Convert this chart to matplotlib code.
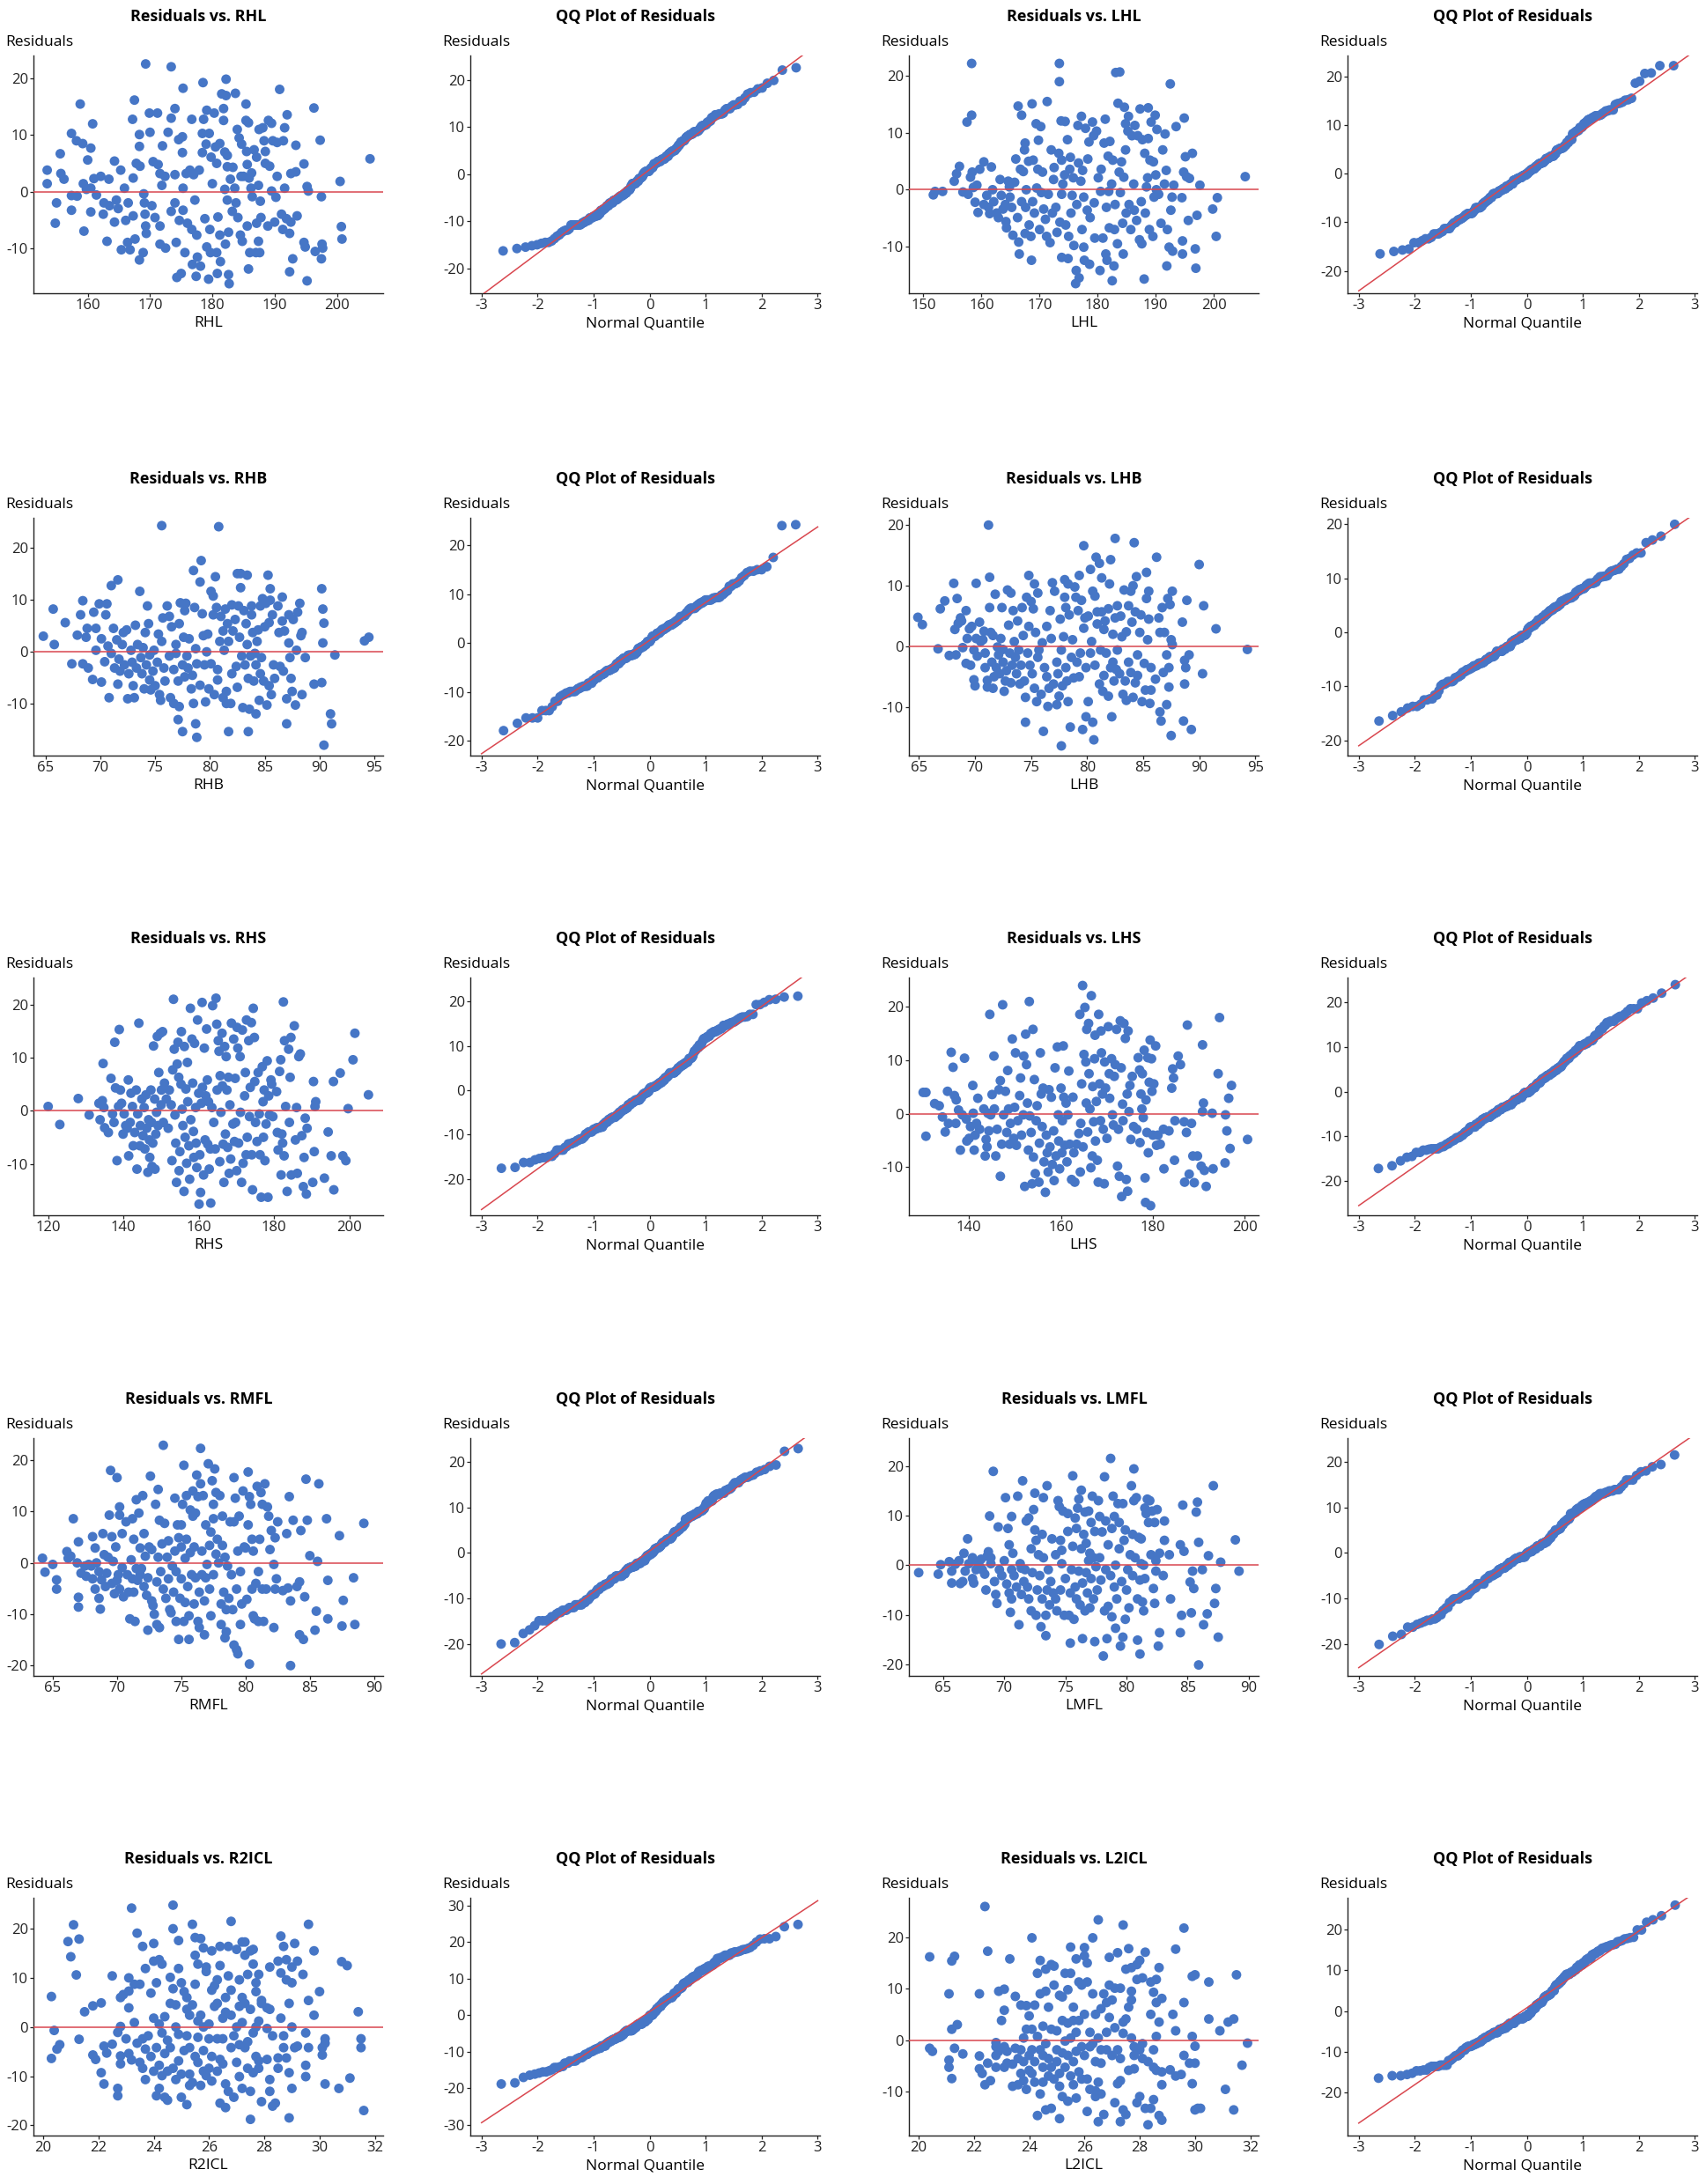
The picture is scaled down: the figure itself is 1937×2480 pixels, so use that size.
import numpy as np
import matplotlib
matplotlib.use("Agg")
import matplotlib.pyplot as plt
from statistics import NormalDist

plt.rcParams['font.family'] = ['Open Sans', 'DejaVu Sans']
plt.rcParams['axes.unicode_minus'] = False

# (predictor value, residual)
rhl = [(153.5,3.8),(153.5,1.4),(155,-2),(154.8,-5.6),(155.6,6.7),(155.7,3.2),(156.2,2.2),(157.4,10.3),(157.4,-0.7),(157.4,-3.3),(158.2,9),(158.8,15.5),(159.2,8.5),(158.3,-0.8),(159.3,1.4),(159.4,-7),(160,5.6),(160.5,7.7),(160.8,12),(159.8,0.4),(160.5,0.6),(161,2.3),(161.4,-0.6),(160.5,-3.6),(162.1,2.7),(162.6,-2),(162.5,-4),(163.1,-8.8),(163.4,2.2),(163.5,-2.5),(164.3,5.4),(164.3,-5.4),(164.6,-1.5),(164.9,-3),(165.3,3.8),(165.4,-10.3),(165.9,0.6),(166.1,-5.1),(166.4,-9),(166.8,-10.3),(166.5,-2),(167.2,12.8),(167.5,16.2),(167.3,2.4),(167.3,-4.3),(167.6,-8.4),(167.8,5),(168.3,10.1),(168.3,8),(168.4,4.5),(168.3,-12.1),(168.9,-10.8),(169.3,22.6),(169,-0.4),(169.1,-2),(169.2,-4),(169.3,-6.1),(169.4,-7.4),(169.9,13.9),(170,10.5),(170.3,-2.5),(170.5,5.3),(170.8,-4.6),(171.2,13.9),(171.3,4.8),(171.6,3.2),(171.6,-6.1),(171.6,-9.3),(171.9,1.1),(172,8.1),(172.4,2.7),(172.5,-10),(172.9,10.5),(173.4,22.1),(173.4,13),(173.4,-3.5),(174,14.7),(174,3),(174,-2),(174.2,-9),(174.3,-15.2),(174.6,9.2),(174.7,-5.1),(175,-14.5),(175.3,18.3),(175.2,9.7),(175.2,6.9),(175.3,0.6),(175.3,-3.3),(175.6,-10.8),(175.8,3.2),(176,-5.6),(176.4,3.8),(176.7,12.8),(176.7,-6.7),(176.8,-12.9),(177,3),(177.2,-1.5),(177.4,-15),(177.5,-7.7),(177.6,-11.6),(177.9,3.8),(178.1,-13.2),(178.4,10.3),(178.5,19.3),(178.4,6.9),(178.6,12.8),(178.8,-4.8),(179,8.4),(179.1,14.4),(179.1,-9.8),(179.4,-15.5),(179.5,10.3),(179.6,-6.7),(179.7,-10.8),(179.8,6.1),(180,1.4),(180.3,13.9),(180.5,7.9),(180.7,5),(180.7,-10.8),(180.8,-14.5),(180.9,-4.5),(181.2,8.5),(181.2,-7.7),(181.3,-12.4),(181.5,17.3),(181.8,14.7),(181.8,12.6),(182,7),(182,0.4),(182.1,-9.3),(182.2,19.9),(182.2,17),(182.4,6.4),(182.4,4.4),(182.4,-1.5),(182.6,-7.2),(182.6,-14.7),(182.7,-16.3),(182.9,2.2),(183.2,-3.5),(183.3,4.3),(183.6,0.6),(183.7,17.4),(183.8,-2),(184,11),(184.1,-4.6),(184.3,9.5),(184.5,-7.7),(184.6,2.7),(184.7,8.4),(184.8,-8.8),(185,2.7),(185.4,15.5),(185.4,12.6),(185.5,7.1),(185.6,4.8),(185.6,-6.1),(185.8,-13.7),(185.8,12.2),(185.9,2.4),(186,-10.8),(186.2,0.6),(186.3,3.3),(186.4,-0.9),(186.7,7.4),(187,-10.8),(187.1,6.1),(187.1,-5.6),(187.4,1.1),(187.4,-8.8),(187.5,11),(187.6,-10.8),(187.7,-1.7),(187.8,-4.6),(188.1,11.3),(188.3,9),(188.5,7.1),(188.5,5),(188.9,-6.1),(189,12.6),(189.2,4.5),(189.5,12.1),(189.5,0.1),(189.7,9),(190,-5.4),(190.4,2.7),(190.4,8.7),(190.2,-1),(190.8,18.1),(191.1,-4),(191.3,-6.7),(191.4,9),(191.6,11.3),(191.6,0.6),(191.9,-4.8),(192,13.6),(192.4,-7.4),(192.4,-14.2),(192.6,3.2),(192.9,-11.9),(192.6,-5.4),(193.4,3.5),(193.4,8.2),(193.6,-4.3),(194.7,4.9),(194.7,-9),(194.9,-9.8),(195.2,-15.8),(195.2,0.9),(195.4,0.1),(196.3,14.8),(196.5,-10.6),(197.3,9.1),(197.5,-0.9),(197.5,-11.9),(197.6,-9.3),(197.7,-10),(200.5,1.8),(200.7,-6.2),(200.8,-8.4),(205.3,5.8)]

lhl = [(151.7,-0.9),(152,-0.3),(153.3,-0.3),(155.3,1.5),(155.7,2.8),(156.2,4.1),(156.8,-0.4),(157.5,11.9),(157.7,-0.8),(158.1,2.2),(158.3,22.2),(158.3,13.1),(158.4,3.1),(158.6,0.4),(158.9,-2.2),(159.2,0.8),(159.4,-4),(159.7,3.6),(160.4,4.9),(160.4,-2.6),(160.9,-1),(161.2,-3.1),(161.4,-4.2),(161.7,4),(161.9,0),(162.1,-2.1),(162.6,-4.1),(162.9,-4.9),(163.2,1.8),(163.4,-1),(163.7,-3.4),(164.1,-2.6),(164.2,-5.6),(164.3,-6.7),(164.6,1.5),(164.8,0.5),(164.9,-1.3),(165.2,-3.1),(165.4,-8),(165.7,1.3),(165.9,5.4),(166.2,-4.9),(166.3,14.7),(166.4,-9.2),(166.5,-11.3),(166.7,3.6),(166.9,13.1),(166.9,-2.1),(167.2,3.2),(167.4,7),(167.5,8.2),(167.5,-7.7),(167.6,-3.1),(167.7,0),(168.1,5),(168.2,-6.2),(168.5,-8.2),(168.6,-12.4),(168.7,15.1),(168.8,-2.1),(168.9,5.2),(169.1,-4.1),(169.4,11.6),(169.5,0.3),(169.7,3.6),(169.8,8.7),(170,-7),(170.2,11.1),(170.3,-0.5),(170.5,3.1),(170.7,-3.4),(171,-5.2),(171.2,-8.2),(171.3,15.5),(171.5,-0.8),(171.8,-9.3),(172,7),(172.2,-4.1),(172.4,1.8),(172.5,3.9),(172.8,-3.1),(173,-7.5),(173.3,6.4),(173.4,22.2),(173.4,19),(173.5,-5.7),(173.7,12.1),(173.8,5.2),(173.8,-0.8),(173.8,-11.9),(174,1),(174.3,2.6),(174.4,12),(174.5,-6.2),(174.8,8.8),(174.9,-12.1),(175,-8.2),(175.2,3.6),(175.3,5.7),(175.4,-4.1),(175.6,-1),(175.8,2.1),(175.9,-9.8),(176.2,-16.5),(176.3,-14.2),(176.4,-2.6),(176.6,11.3),(176.7,4.7),(176.8,-15.5),(177.1,1.5),(177.2,12.9),(177.3,-7),(177.4,3.4),(177.6,-1.3),(177.6,-10.1),(177.7,-12.4),(177.9,10.8),(178.2,-3.6),(178.3,5.4),(178.5,8.4),(178.6,-13.1),(178.7,-4.9),(179.1,11.9),(179.3,9.5),(179.4,-2.3),(179.5,-8.5),(179.8,10.3),(180.1,2.1),(180.4,-14.2),(180.5,-0.3),(180.6,3.6),(180.9,-8.5),(181.1,8.2),(181.3,12.4),(181.4,-11.3),(181.5,-3.1),(181.6,-12.4),(181.8,5.9),(181.9,-0.3),(182,-6.7),(182.1,8.5),(182.4,1),(182.5,-16),(182.6,5.2),(182.8,-13.4),(182.9,-7),(183,-2.6),(183.1,20.6),(183.4,-9.5),(183.5,15.2),(183.7,3.1),(183.8,20.7),(183.9,-0.5),(184.1,4.9),(184.3,-5.9),(184.4,-11.3),(184.5,2.2),(184.6,14.5),(184.8,11.6),(184.8,7),(184.9,-4.1),(185.2,10.3),(185.3,12.9),(185.4,-2.6),(185.7,-7),(185.9,9.5),(186.2,1),(186.3,-3.6),(186.4,11.3),(186.7,-5.4),(186.9,9.5),(187.2,-8.8),(187.3,14.2),(187.5,-2.1),(187.6,-9.5),(187.7,8.8),(188,-15.7),(188.1,6.4),(188.2,-4.1),(188.4,0.5),(188.6,2.1),(188.7,14.4),(188.7,9),(188.9,-7),(189,5.2),(189.2,11.9),(189.5,-8.2),(189.6,4.9),(189.7,-1.3),(189.9,13.1),(190,2.6),(190.1,0),(190.2,10.6),(190.5,-0.8),(190.9,-5.9),(191.2,7),(191.5,1),(191.6,9.8),(191.8,3.4),(191.9,-13.4),(192,-7),(192.3,-10.1),(192.5,18.6),(192.6,-3.6),(192.8,-1.3),(192.9,-10.8),(193.1,0.8),(193.5,11.1),(194.5,-1.4),(194.6,-9),(194.6,-11.3),(194.8,3.1),(194.9,12.6),(195.1,5.8),(195.3,2.3),(195.6,-5.4),(195.8,2),(196.3,6.4),(196.8,-10.4),(196.9,-13.8),(197.1,-4.5),(197.6,0.8),(199.8,-3.4),(200.4,-8.2),(200.6,-1.4),(205.4,2.3)]

rhb = [(64.8,3),(65.7,8.2),(65.8,1.4),(66.8,5.6),(67.4,-2.3),(67.9,3.2),(68.2,7.1),(68.4,9.8),(68.4,-2.3),(68.7,2.8),(68.8,4.5),(68.9,-3.1),(69.3,-5.3),(69.4,7.6),(69.6,4.5),(69.6,0.3),(69.9,9.2),(70.1,2.5),(70.1,-5.8),(70.4,-1.9),(70.5,7.1),(70.6,9.2),(70.7,1.1),(70.8,-8.8),(71,12.7),(71,-0.3),(71.2,4.5),(71.3,-3.1),(71.5,2.3),(71.6,13.8),(71.6,-6.2),(71.7,-1.4),(71.8,-3.7),(72,1.4),(72.1,3.7),(72.2,-2.5),(72.4,4.2),(72.5,-9),(72.6,-4.2),(72.8,0.3),(72.9,-2),(73,-6.5),(73.1,-8.8),(73.2,5.1),(73.3,-3.1),(73.4,1.4),(73.6,11.6),(73.7,-1.1),(73.8,-4.2),(73.9,0.8),(74,-7.1),(74.1,3.7),(74.2,-2.5),(74.3,8.8),(74.4,5.4),(74.5,-0.6),(74.5,-5.4),(74.6,-7.3),(74.8,-3.7),(74.9,0.3),(75,-6.5),(75.2,-2),(75.3,3.4),(75.4,-8.2),(75.5,-9.3),(75.6,24.2),(75.6,2),(75.7,6.5),(75.8,-3.1),(75.9,-5.6),(76.1,8.8),(76.3,6.8),(76.3,-0.8),(76.4,-8.8),(76.5,4.8),(76.7,-3.4),(76.7,-9.9),(76.9,1.4),(76.9,-0.3),(77.1,-5.6),(77.1,-13),(77.2,5.4),(77.2,-10.5),(77.3,9.4),(77.5,-15.3),(77.5,-2.5),(77.6,2.8),(77.7,7.9),(77.7,-4.8),(77.8,9.3),(77.9,-0.8),(78,-3.1),(78.1,2.5),(78.3,-7.1),(78.4,-4.5),(78.5,15.6),(78.5,-9.9),(78.6,8.5),(78.7,0.6),(78.7,-13.8),(78.8,-16.4),(78.8,-2.3),(79.1,13.4),(79.1,-6.4),(79.2,17.5),(79.3,7.3),(79.4,3.1),(79.5,-2.5),(79.6,-9.6),(79.7,0),(79.8,3.4),(79.9,-7.1),(80.1,11.6),(80.1,-2.3),(80.3,7.1),(80.3,10.7),(80.4,-8.2),(80.5,14.4),(80.6,8.5),(80.7,-5.4),(80.7,-3.4),(80.8,24),(80.9,2),(81,6.8),(81.2,4),(81.2,-8.8),(81.3,0.3),(81.4,8.2),(81.5,-7.6),(81.5,-9.9),(81.6,5.4),(81.7,2),(81.7,-15.3),(81.9,-9.9),(82,9),(82,-4.2),(82.1,4),(82.3,6.2),(82.4,-2.8),(82.5,-6.8),(82.5,15),(82.6,8.8),(82.7,2.8),(82.8,12.3),(82.8,15),(82.9,-0.8),(83,-10.7),(83.1,7.9),(83.2,-2.5),(83.3,5.4),(83.4,14.7),(83.4,1.4),(83.5,-5.1),(83.5,-15.3),(83.6,-11),(83.7,-0.8),(83.8,7.1),(83.8,8.8),(83.9,3.7),(84,-5.6),(84.1,-0.3),(84.2,-11.9),(84.2,-2.5),(84.3,2),(84.4,4.2),(84.5,-9.3),(84.6,-4.2),(84.6,8.8),(84.7,-1.1),(84.8,10.2),(84.9,-5.6),(85,4.8),(85.1,9.3),(85.2,-10.2),(85.3,14.7),(85.4,-6.5),(85.4,5.6),(85.5,9.9),(85.5,12.1),(85.6,-8.2),(85.7,7.1),(85.8,-2.5),(85.9,-5.1),(86.2,8.8),(86.3,3.7),(86.4,-2.8),(86.6,10.5),(86.6,5.9),(86.7,-3.7),(86.8,4),(87,-9),(87,-13.8),(87.2,7.1),(87.2,1.7),(87.3,-1.1),(87.4,-5.1),(87.5,-7.6),(87.6,6.2),(87.8,-10.2),(87.9,0.3),(88,7.6),(88.2,9.3),(88.3,3.1),(88.4,3.7),(88.4,-8.2),(88.7,-1.1),(89.5,-6.2),(90.2,12.1),(90.2,-5.9),(90.3,8.2),(90.3,1.7),(90.4,-17.9),(90.4,5.5),(91,-11.9),(91.1,-13.8),(91.4,-0.6),(94.1,2.1),(94.5,2.8)]

lhb = [(64.9,4.8),(65.3,3.6),(66.7,-0.4),(66.9,6.2),(67.3,7.5),(67.7,-1.5),(68.1,10.4),(68.2,2.8),(68.3,-1.4),(68.4,7.9),(68.5,3.8),(68.7,4.7),(68.8,4.2),(68.9,-0.2),(69.2,-2.8),(69.2,5.9),(69.3,1.3),(69.5,2.9),(69.6,-3.1),(69.7,3.3),(69.9,-5.5),(69.9,-0.6),(70,-6.5),(70.1,1.3),(70.1,10.4),(70.2,-1.6),(70.4,4),(70.5,0.8),(70.7,1.1),(70.8,2.5),(70.9,-1.1),(70.9,-3.5),(71.1,-6.7),(71.1,-5.6),(71.2,20),(71.3,6.4),(71.3,11.4),(71.4,2.3),(71.5,-2.6),(71.6,-6.9),(71.6,1.8),(71.7,-5),(71.8,8.6),(71.9,-3.5),(72,-0.1),(72.1,-1.4),(72.2,-4.5),(72.3,1.3),(72.4,6.4),(72.5,-2.6),(72.5,-0.5),(72.6,-7.4),(72.7,-5.7),(72.8,-4),(72.9,9.3),(73,3.5),(73.1,-1.1),(73.2,8.8),(73.2,-6),(73.3,-3.1),(73.4,5.9),(73.5,0.8),(73.6,-1.8),(73.7,-4.5),(73.8,4.2),(73.9,-0.6),(74,-6.2),(74.1,-3.1),(74.2,6.4),(74.3,1.8),(74.4,-5.7),(74.5,-8.4),(74.5,-12.5),(74.6,8.1),(74.7,-1.1),(74.8,11.7),(74.8,3.3),(74.9,-3.1),(75,7.4),(75.1,-4.5),(75.2,6.2),(75.3,10.3),(75.3,-6.9),(75.4,2.3),(75.5,-9.1),(75.6,8.8),(75.6,-1.8),(75.7,-0.6),(75.9,-7.9),(76,0.6),(76.1,-14),(76.2,-3.5),(76.4,3.3),(76.4,-5),(76.5,-9.9),(76.6,-6.9),(76.7,5.9),(76.8,1.3),(76.9,10.5),(77,-6.2),(77.1,9.1),(77.3,-9.6),(77.3,-2.6),(77.4,-4.5),(77.5,-8.2),(77.6,4.5),(77.7,-16.4),(77.7,-0.6),(77.8,-6.5),(77.9,1.6),(78,8.1),(78,11),(78.1,-3.5),(78.1,6.4),(78.2,-5.7),(78.3,-9.1),(78.3,10.3),(78.4,5.2),(78.5,-13.3),(78.6,-1.8),(78.7,1.1),(78.8,-5.2),(78.9,9.8),(79,8.1),(79.1,-2.6),(79.2,5.9),(79.3,-5),(79.3,11.7),(79.4,-1.1),(79.5,7.6),(79.6,-13.7),(79.7,3),(79.7,16.6),(79.8,4.7),(79.9,-11.6),(79.9,-3.5),(80.1,5),(80.1,-9.1),(80.3,-1.1),(80.3,12.7),(80.4,0.8),(80.5,9.1),(80.5,-12.5),(80.6,-15.4),(80.7,8.3),(80.7,-3.1),(80.8,14.7),(80.9,5.7),(80.9,3.7),(81.1,13.7),(81.1,-6.2),(81.2,-0.6),(81.3,5.7),(81.3,11.3),(81.4,-7.4),(81.5,2.8),(81.5,-4.8),(81.6,4.2),(81.7,-1.1),(81.9,6.2),(81.9,-8.2),(82,10.3),(82.1,-3.5),(82.1,14.3),(82.2,-11.6),(82.3,-2.6),(82.3,2),(82.4,-5.7),(82.5,4.7),(82.5,17.8),(82.6,-3.8),(82.7,6.7),(82.7,-0.6),(82.9,-4.5),(83,5),(83.1,1.6),(83.2,-7.9),(83.3,9.3),(83.4,-5.7),(83.5,-8.9),(83.5,2.4),(83.7,6.7),(83.7,-2.6),(83.9,9.1),(83.9,-4.3),(84,4),(84.1,10),(84.1,-8.4),(84.2,17.1),(84.3,-6),(84.3,5.7),(84.4,11.5),(84.5,-1.4),(84.5,-4.8),(84.7,2.3),(84.8,5.2),(84.9,-9.1),(85.1,-2.8),(85.2,-7.2),(85.3,7.9),(85.3,12.2),(85.4,1.1),(85.5,4.5),(85.5,9.1),(85.6,-9.4),(85.7,-3.5),(85.7,-7.2),(86.1,-5.4),(86.2,14.7),(86.4,4.7),(86.5,-10.8),(86.5,2.3),(86.6,-12.3),(86.7,6.4),(86.8,-4.3),(86.9,2.3),(87.1,-1.4),(87.1,-9.6),(87.2,7.9),(87.3,-6.7),(87.3,-3.5),(87.4,6.9),(87.5,1.1),(87.5,-14.7),(87.6,9.1),(87.6,0.3),(88.5,4),(88.6,-12.3),(88.7,-2.3),(88.7,-6.2),(88.8,-3.5),(88.9,7.6),(89.1,-1.4),(89.3,-13.7),(90,13.5),(90.3,-4.5),(90.4,6.7),(91.5,2.9),(94.3,-0.5)]

rhs = [(120,0.8),(123.1,-2.6),(128,2.3),(130.9,-0.8),(133.5,1.4),(133.8,-1.7),(134.4,1.9),(134.6,8.9),(134.8,0.6),(135,-3.2),(136,-4.1),(136.7,6.1),(137.1,-0.6),(137.5,-2.2),(137.7,12.9),(137.9,4.3),(138.3,-9.4),(138.7,0.8),(138.9,15.3),(139.2,3.9),(139.5,1.4),(139.9,-4.4),(140.2,-0.6),(140.6,-2.8),(141,-3.3),(141.3,5.8),(141.4,-8.5),(141.8,-2.2),(142,3.3),(142.4,0.8),(142.6,-6.6),(143,-4.1),(143.4,3.9),(143.6,-11),(143.8,-0.6),(144.1,16.5),(144.4,-6.6),(144.5,-2.8),(144.9,2.2),(145.2,-4.7),(145.5,0.6),(145.7,-7.2),(146,3),(146.2,-3.3),(146.5,-11.6),(146.7,-1.7),(146.9,-5.5),(147,-8.8),(147.3,3.9),(147.5,-2.2),(147.6,-10.5),(147.8,-6.1),(148,12.2),(148.3,2.2),(148.4,-11),(148.6,-4.4),(148.8,-0.3),(149,14),(149.2,-2.8),(149.4,7.2),(149.8,14.6),(150,1.1),(150.1,3.9),(150.4,14.9),(150.6,-2.2),(150.9,5.2),(151.4,2.2),(151.9,-3.3),(152.2,3.9),(152.7,1.1),(152.9,-9.4),(153.1,7.7),(153.3,21),(153.5,11.6),(153.7,-0.8),(153.9,-6.1),(154.1,-13.5),(154.3,8.8),(154.5,12.9),(154.7,6.3),(154.8,-11.3),(155,-7.7),(155.3,5),(155.4,14.9),(155.6,0.3),(155.8,-2.8),(156.1,-15.2),(156.2,12.1),(156.4,-5),(156.6,4.1),(156.8,-9.9),(157,9.1),(157.1,1.7),(157.4,-6.6),(157.6,-12.9),(157.8,19.3),(157.9,-1.7),(158.2,13.5),(158.4,5.2),(158.6,-3.9),(158.7,-8.8),(158.9,12.7),(159.2,0.6),(159.3,-6.1),(159.5,-10.7),(159.7,17.1),(160,3.3),(160.1,-17.6),(160.3,-8.3),(160.5,-15.4),(160.7,1.4),(160.9,20.4),(161,4.4),(161.3,-12.1),(161.5,11.8),(161.7,-5.5),(161.9,2.8),(162.1,15.4),(162.3,5.8),(162.4,-6.3),(162.6,1.7),(162.8,-11),(163.1,-7.2),(163.2,-17.4),(163.5,0.6),(163.7,19.8),(164,-2.2),(164.4,-7.2),(164.6,21.2),(164.8,16.3),(164.9,3.9),(165.2,13.2),(165.4,11.2),(165.6,-9.6),(165.7,6.6),(165.9,-0.3),(166.2,14.6),(166.3,4.7),(166.5,-6.3),(166.7,-13.5),(166.9,12.1),(167.1,-4.4),(167.3,10.2),(167.5,3.9),(167.7,-6.9),(167.9,6.3),(168.1,-11.8),(168.3,1.1),(168.5,-9.1),(168.7,16.5),(169.1,-2.5),(169.3,13.5),(169.5,-5.8),(169.7,6.1),(169.8,-2.2),(170.1,-11.3),(170.2,15.7),(170.4,11.8),(170.6,-6.1),(171,10.2),(171.1,-0.3),(171.4,-13.5),(171.6,15.2),(171.8,-9.9),(172.2,2.8),(172.4,7.2),(172.6,-8.3),(172.7,17.1),(172.9,-5),(173.3,13.2),(173.5,-1.1),(173.7,4.4),(174,16.6),(174.1,-8.3),(174.3,-14.9),(174.5,19.3),(174.8,13.8),(174.9,5.5),(175.1,-2.2),(175.5,-5.8),(175.8,7.2),(176.1,-0.6),(176.3,-8.3),(176.6,-16.3),(176.9,8.3),(177.1,1.7),(177.2,-5),(177.4,3.9),(177.6,-9.4),(177.9,-2.5),(178.2,9.4),(178.4,-16.3),(178.6,2.8),(178.8,-0.8),(179.2,5.8),(179.4,5),(179.7,-1.1),(180.7,3.6),(180.9,-4.1),(181.1,-7.4),(181.5,7.4),(181.8,9.6),(181.9,-12.1),(182.1,-4.4),(182.3,-6.1),(182.5,20.5),(182.7,-8.5),(182.8,13.2),(183.1,0.8),(183.5,-15.2),(183.9,11.6),(184.1,-2.2),(184.3,6.3),(184.5,13.8),(184.6,-12.1),(185.4,16),(185.7,-5.5),(186,0.6),(186.2,-11.8),(186.6,10.2),(187,10.7),(187.4,-4.7),(187.8,-14.3),(188,-8.8),(188.3,-1.4),(188.6,-15.7),(188.8,-3.3),(190.3,-13.5),(190.5,5.5),(190.7,-7.7),(190.9,0.8),(191.1,1.7),(193.4,-12.7),(194.4,-4),(195.2,-8.5),(195.9,-14.9),(195.8,5.5),(197.6,7.1),(198.3,-8.5),(199.1,-9.4),(199.7,0.4),(201,9.6),(201.5,14.6),(205.1,3)]

lhs = [(130,4),(130.6,4),(130.6,-4.2),(132.5,1.9),(133.5,1.5),(134.2,-0.6),(134.8,-3.4),(135.3,4.2),(135.5,-1.8),(136.1,11.5),(136.5,8.7),(136.8,3.4),(137.1,-1.8),(137.2,2.6),(137.7,0.7),(138.1,-6.8),(138.5,-0.2),(139,10.4),(139.4,-1),(139.5,-5.1),(140,-4.6),(140.3,-2.4),(140.8,5.3),(140.9,0.1),(141.1,-6.8),(141.3,-4),(141.6,-1.8),(141.9,2.9),(142.3,-2.9),(143.2,0.9),(143.5,-7.9),(143.7,-4.8),(143.9,-6.2),(144.1,0.1),(144.3,-3.2),(144.5,18.6),(144.7,-0.2),(145,3.6),(145.4,10.8),(145.5,0.9),(145.8,-7.9),(146.1,-2.9),(146.5,4.5),(146.8,6.2),(146.8,-11.7),(147.1,-5.7),(147.3,20.4),(147.5,-0.2),(147.9,4.2),(148.2,-3.5),(148.4,8.1),(148.6,0.9),(148.8,-5.7),(149,-1.8),(149.4,14),(149.7,-4.6),(149.9,1.2),(150.1,11.4),(150.3,-5.9),(150.6,-1.3),(151,3.4),(151.2,6.7),(151.4,-4),(151.8,-0.2),(151.9,10.8),(152.1,-13.6),(152.3,14.9),(152.5,9.2),(152.7,2),(152.9,-6.8),(153.1,21),(153.2,-0.4),(153.5,-3.5),(153.7,-13.1),(153.9,15.8),(154,-8.1),(154.2,6.4),(154.4,-11.2),(154.6,-1.3),(154.8,1.5),(155.2,-12.8),(155.3,-5.5),(155.5,11.4),(155.7,3.7),(155.9,-2.4),(156.1,4.8),(156.3,-9),(156.6,-14.7),(156.8,-4),(157,-7.3),(157.2,-10.9),(157.4,4.5),(157.6,-6.2),(157.9,3.1),(158.1,-9.5),(158.4,-3.2),(158.5,-12.5),(158.7,8.6),(158.9,-7.9),(159.2,12.5),(159.4,-0.2),(159.5,-5.1),(159.7,-10.3),(160,4.8),(160.2,-7.3),(160.3,-1.3),(160.5,12.7),(160.6,3.1),(160.8,-5.9),(161.1,2),(161.3,-9),(161.5,-0.2),(161.7,8),(161.9,-5.7),(162.3,-12.3),(162.6,3.1),(162.8,-7.3),(163,-12.8),(163.4,-5.7),(163.9,-3.7),(164.1,18.6),(164.2,-10.9),(164.3,-1.8),(164.5,5.6),(164.7,24),(164.8,-6.2),(165,11.1),(165.2,19.9),(165.4,9.7),(165.5,2),(165.6,15.8),(165.8,-3.4),(166,16.9),(166.1,7.5),(166.3,0.9),(166.5,-10.1),(166.6,22.1),(166.8,-7.9),(166.9,5.1),(167.1,-1.5),(167.3,10.3),(167.4,14.7),(167.5,-5.1),(167.7,2.3),(167.9,-8.7),(168.1,-12.8),(168.2,18.6),(168.4,5.6),(168.6,-1.3),(168.7,15.5),(168.8,11.4),(169,3.7),(169.2,-2.9),(169.4,-13.1),(169.5,9.7),(169.7,4.8),(170,-4.6),(170.3,16.3),(170.5,7.5),(170.6,2.9),(171,10.3),(171.2,-0.2),(171.4,-2.1),(171.6,7),(171.8,9.2),(172.1,15.8),(172.3,-9.8),(172.5,-2.9),(172.7,-11.7),(172.9,17.4),(173.1,8.6),(173.2,-15.5),(173.4,1.8),(173.5,-1.3),(173.7,16.9),(174,14.1),(174.2,-12.3),(174.4,3.7),(174.5,-14.5),(174.6,15.5),(174.8,0.4),(175,5.3),(175.2,-4.8),(175.5,7),(175.8,-2.4),(176.5,-2.9),(176.8,10.5),(177.1,8.2),(177.2,-5.4),(177.4,3.7),(177.6,0.9),(177.7,7.5),(177.9,-0.7),(178.1,11.9),(178.3,-12),(178.4,-16.6),(178.5,2.6),(178.7,-3.5),(178.9,10.5),(179,-7.3),(179.2,5.9),(179.4,13.8),(179.5,-17.2),(179.7,10.3),(179.8,4.2),(180,-4),(180.2,5.6),(180.6,12.7),(180.8,-5.9),(181.1,-4),(181.6,-5.7),(182.3,-2.9),(182.4,-10.3),(183.5,-3.2),(184.1,4.8),(184.3,8.4),(184.5,6.7),(184.7,-8.7),(184.8,-1.3),(185.5,10.8),(186,9.2),(186.8,-1.5),(186.9,-12.8),(187.3,-3.5),(187.5,16.6),(187.9,-11.3),(188.4,-1.8),(188.7,-7.9),(189,-12.9),(189.7,-7.9),(190.5,-9.8),(190.8,12.9),(190.8,0.4),(191,2),(191.2,-10.6),(191.6,-13.6),(192.9,0.1),(193.1,-10.3),(194.2,7.5),(194.5,18),(195.7,-9.2),(195.8,-0.2),(196.1,-3.2),(196.5,2.9),(196.8,-6.5),(197.1,5.3),(200.6,-4.8)]

rmfl = [(64.2,0.9),(64.4,-1.8),(65,-0.3),(65.3,-3.3),(65.3,-5.1),(66.1,2.2),(66.2,0.9),(66.4,1.3),(66.6,8.6),(66.9,0),(67,4.1),(67,-6.7),(67,-8.6),(67.2,-2),(67.5,-0.6),(67.6,-2.6),(67.8,-0.3),(68,-0.6),(68.1,5.1),(68.1,-3.1),(68.3,2.9),(68.3,-5.1),(68.4,0),(68.6,-6.9),(68.6,-1.7),(68.7,-9),(68.8,-3.3),(68.9,5.7),(69,1.6),(69.1,-4.6),(69.2,-2),(69.3,1.1),(69.4,9.3),(69.5,18),(69.6,5.1),(69.6,-4),(69.7,0.3),(69.8,-6),(69.9,3.1),(70,-3.4),(70,16.6),(70.1,-2.3),(70.2,9.3),(70.2,10.9),(70.2,-5.1),(70.4,5.7),(70.4,-0.9),(70.5,-6.6),(70.7,8),(70.8,-2.3),(70.9,-5.7),(71,-10.9),(71.1,0.6),(71.2,-3.1),(71.2,8.6),(71.3,4.6),(71.3,-5.7),(71.4,-11.4),(71.5,-1.1),(71.5,12.3),(71.6,-3.4),(71.7,9.7),(71.8,2.9),(71.8,-2.3),(71.9,-1.1),(72,13.1),(72.1,-4.6),(72.1,5.7),(72.2,1.3),(72.3,-6.3),(72.4,-13.1),(72.4,-2.9),(72.5,3.1),(72.6,16.9),(72.7,2.6),(72.7,-7.4),(72.8,-8.3),(72.9,-10),(73,11.4),(73.1,-3.7),(73.1,-12),(73.2,1.1),(73.2,14.3),(73.3,-12.6),(73.3,8.3),(73.4,-1.7),(73.5,3.7),(73.6,22.9),(73.6,-5.1),(73.7,7.7),(73.8,-6.9),(73.9,1.1),(74,4.3),(74,-3.1),(74.1,-9.1),(74.2,-9.7),(74.3,-0.6),(74.4,-5.7),(74.5,12.6),(74.5,2.3),(74.6,-11.4),(74.6,-1.7),(74.7,7.4),(74.8,-14.9),(74.8,4.9),(74.9,-6.9),(75,7.4),(75,-3.1),(75,3.1),(75.1,11.4),(75.2,19),(75.2,-11.4),(75.3,-7.7),(75.3,0.9),(75.4,13.1),(75.4,4.6),(75.5,-4.6),(75.6,-14.9),(75.6,-10.3),(75.7,10.3),(75.7,2),(75.8,-2.3),(75.9,9.1),(75.9,14),(76,-8),(76,3.1),(76.1,9.7),(76.1,-2.9),(76.2,17.1),(76.3,-11.4),(76.3,12.9),(76.4,-5.7),(76.4,-12.6),(76.5,22.3),(76.5,15.4),(76.6,2.3),(76.6,-2.3),(76.7,13.1),(76.8,-14),(76.8,-7.4),(76.9,-2.9),(76.9,7.4),(77,-0.3),(77.1,19.3),(77.2,-5.1),(77.2,3.4),(77.3,-10.3),(77.3,6),(77.4,16),(77.5,8.6),(77.5,-2.3),(77.5,11.4),(77.6,18.3),(77.7,1.7),(77.7,13.7),(77.8,4.6),(77.9,0),(78,13.1),(78.1,-8),(78.1,-12),(78.2,9.1),(78.2,3.4),(78.3,-5.7),(78.4,-14.6),(78.4,1.1),(78.5,-9.1),(78.5,-13.4),(78.6,-0.6),(78.7,-6.9),(78.8,8),(78.9,-2.3),(79,-9.1),(79.1,-16),(79.1,16.6),(79.1,8),(79.2,12.6),(79.3,-5.1),(79.3,-16.9),(79.4,2.3),(79.4,-17.7),(79.5,9.1),(79.6,-12),(79.6,-1.7),(79.7,-8),(79.8,14),(79.9,3.1),(80,2.9),(80.1,-7.1),(80.2,7.4),(80.2,17.7),(80.3,12.9),(80.3,-19.7),(80.4,11.4),(80.5,-5.1),(80.5,4.6),(80.6,-10.3),(80.6,2.3),(80.7,-10.9),(80.8,-4),(80.9,14.9),(81,-1.7),(81,-11.4),(81.1,4.6),(81.2,13.7),(81.3,-5.1),(81.3,11.4),(81.4,-11.4),(81.5,15.4),(81.6,-5.1),(81.7,10.9),(81.8,9.1),(81.9,2.6),(82,6.3),(82.2,-12.6),(82.2,-0.3),(82.3,4.9),(82.3,-5.1),(82.4,-3.1),(82.5,8),(82.9,-5.4),(83.2,5.7),(83.3,-4.9),(83.4,12.9),(83.5,-7.4),(83.5,-20),(83.7,8.3),(84,-4.6),(84.2,-3.7),(84.2,-14),(84.3,6.3),(84.5,-14.9),(84.6,-6.6),(84.7,16.3),(84.8,8.3),(85,1.4),(85.4,-13.1),(85.5,-9.4),(85.6,0.3),(85.7,15.4),(86.3,8.6),(86.4,-3.4),(86.4,-10.9),(87.3,5.3),(87.5,-12.3),(87.6,-7.3),(88.4,-2.9),(88.5,-12),(89.2,7.7)]

lmfl = [(63,-1.5),(64.6,-1.8),(64.8,0.1),(65.5,0.7),(65.7,-1.2),(65.7,-3.6),(66,0.2),(66.3,0.9),(66.4,-3.7),(66.6,-3.3),(66.7,2.4),(66.8,-1.2),(67,5.3),(67.1,0.3),(67.4,-2.7),(67.4,1.5),(67.5,-3.6),(67.7,-0.9),(67.8,0.6),(68,-0.3),(68.1,1.2),(68.2,-0.9),(68.4,-1.8),(68.5,-5),(68.6,1.8),(68.7,2.7),(68.8,9.9),(68.9,0.3),(68.9,1.5),(69.1,18.9),(69.2,-3.3),(69.3,-5.9),(69.4,-7.7),(69.5,7.7),(69.6,-0.9),(69.8,-2.1),(70,0.9),(70.1,13.6),(70.2,-3.8),(70.3,7.4),(70.4,4.1),(70.4,-5.6),(70.5,-9.5),(70.6,-0.9),(70.6,9.8),(70.6,-6.8),(70.7,2.4),(70.8,-2.1),(71,-4.4),(71.1,13.9),(71.2,-12),(71.3,0.3),(71.4,-5.9),(71.4,-0.6),(71.5,17),(71.6,-3.3),(71.7,-0.9),(71.8,8.9),(71.9,-4.4),(72,-6.8),(72,9.5),(72.2,3.3),(72.2,-9.2),(72.3,-1.5),(72.4,11.2),(72.5,14.5),(72.5,7.1),(72.6,-10.1),(72.6,5),(72.7,-5),(72.8,2.1),(72.9,-2.1),(73,-12.4),(73.1,6.2),(73.1,-6.8),(73.2,13.6),(73.2,1.5),(73.4,-14.2),(73.4,-10.1),(73.5,16),(73.5,-5),(73.6,-0.9),(73.7,-8),(73.8,-3.3),(73.9,5.3),(74,-5.6),(74.2,2.1),(74.2,-6.8),(74.3,-9.2),(74.4,13),(74.5,11.8),(74.6,5),(74.6,-5),(74.7,0.3),(74.7,3),(74.8,10.9),(74.9,-10.1),(75,-2.7),(75.2,10.4),(75.2,6.8),(75.3,-10.1),(75.4,-15.7),(75.4,-5.6),(75.5,-0.9),(75.6,18),(75.6,3.8),(75.7,-10.9),(75.8,9.5),(75.8,-4.4),(75.9,7.4),(75.9,-6.8),(76,11.5),(76.1,13.3),(76.1,-1.2),(76.2,-8),(76.3,15.1),(76.3,3.3),(76.4,-3.6),(76.4,-14.8),(76.5,6.2),(76.6,10.7),(76.6,-9.2),(76.7,-1.5),(76.7,4.4),(76.8,-5.6),(76.9,10.9),(76.9,0.9),(77,-8.6),(77,2.4),(77.1,-2.7),(77.1,8.6),(77.2,13.9),(77.3,-6.8),(77.3,1.5),(77.4,6.8),(77.4,-15.4),(77.5,-0.3),(77.6,-5),(77.7,13),(77.8,1.5),(77.8,9.8),(77.9,-3),(78,6.7),(78.1,-18.3),(78.2,-9.2),(78.2,17.8),(78.3,-0.9),(78.3,8.9),(78.4,-14.8),(78.5,-8.3),(78.5,4.1),(78.7,-2.1),(78.7,21.5),(78.8,-10.4),(78.8,7.4),(78.9,13.9),(79,-4.4),(79,9.8),(79.1,0),(79.1,-12.7),(79.2,-6.8),(79.3,12.4),(79.4,8.6),(79.4,3.3),(79.5,-16.3),(79.6,-3.3),(79.7,12.4),(79.7,-14.5),(79.8,5),(79.9,7.1),(79.9,-10.9),(80,-5),(80.1,-0.9),(80.2,-8.6),(80.3,2.1),(80.4,16),(80.5,-2.1),(80.5,6.2),(80.6,13),(80.6,19.4),(80.7,1.5),(80.8,13.6),(80.9,-6.8),(80.9,-15.1),(81,5.6),(81.1,-3),(81.1,-17.9),(81.2,0.3),(81.2,5.3),(81.3,-7.4),(81.4,0),(81.4,-9.2),(81.5,11.5),(81.5,-2.7),(81.6,10.4),(81.7,13.3),(81.8,8.6),(81.9,13),(82,2.1),(82.1,10.9),(82.2,-4.7),(82.3,8.6),(82.3,-7.7),(82.4,0.9),(82.4,-1.2),(82.5,11.2),(82.6,-16.3),(82.7,2.4),(82.7,-13.6),(83,-2.1),(83.1,5),(83.1,8.9),(83.5,2.1),(83.6,-6.8),(84.4,4.1),(84.4,-13.6),(84.5,-10.1),(84.6,12.1),(84.7,2.8),(85.2,-3.4),(85.3,-9.6),(85.4,-1.2),(85.5,-4.7),(85.7,10.7),(85.8,12.7),(85.9,4.6),(85.9,-20.1),(86.2,-0.9),(86.3,-12),(86.6,-9.8),(86.7,1.9),(87.1,16),(87.2,-7.7),(87.3,-4.7),(87.5,-14.5),(87.7,0.6),(88.9,5.1),(89.2,-1.2)]

r2icl = [(20.3,-6.4),(20.3,6.2),(20.4,-0.7),(20.5,-4.5),(20.6,-3.6),(20.9,17.4),(21,14.3),(21.1,20.8),(21.2,10.6),(21.3,17.9),(21.3,-2.5),(21.5,3.1),(21.8,4.3),(21.8,-5.7),(21.9,-6.6),(22.1,-9.3),(22.1,4.9),(22.2,-11.6),(22.2,-3.9),(22.3,-5.3),(22.5,-3.5),(22.5,10.4),(22.7,-1.1),(22.7,-12.5),(22.7,-14),(22.8,0.1),(22.8,-7.5),(22.8,-5.9),(22.8,6),(22.9,6.6),(23,-2.4),(23.1,3.9),(23.1,10),(23.1,-5.4),(23.1,7.3),(23.2,24.2),(23.2,-6.7),(23.3,0.9),(23.3,8.7),(23.4,19.1),(23.4,-3.3),(23.5,-7.2),(23.5,8.7),(23.6,16.4),(23.6,-2.4),(23.6,-8.4),(23.7,-4.5),(23.7,11.9),(23.7,-10.7),(23.8,-1.8),(23.9,6.9),(23.9,-6),(24,17),(24,1.8),(24,13.4),(24,-9),(24.1,-14),(24.1,9),(24.1,-4.2),(24.2,0.6),(24.2,-12.5),(24.2,13.7),(24.2,-7.8),(24.3,12.8),(24.3,-9.9),(24.3,-1.2),(24.4,-5.4),(24.4,-14.3),(24.4,2.1),(24.5,-2.7),(24.5,-9),(24.5,-14.9),(24.6,4.8),(24.6,-4.2),(24.6,10.1),(24.7,20),(24.7,7.8),(24.7,24.8),(24.7,-8.4),(24.8,-10.7),(24.8,4.5),(24.8,0),(24.9,11.9),(24.9,-1.5),(24.9,17.6),(24.9,-6.9),(25,9),(25,-14.3),(25,-9.6),(25.1,7.2),(25.1,-4.8),(25.2,3.6),(25.2,6),(25.2,-15.8),(25.2,-1.8),(25.3,-9.6),(25.3,2.4),(25.3,-11.9),(25.3,-4.2),(25.4,4.5),(25.4,-11.3),(25.4,20.9),(25.5,18.2),(25.5,8.7),(25.5,-6),(25.5,14.6),(25.6,1.2),(25.6,-2.1),(25.6,12.8),(25.6,-7.2),(25.7,-11.9),(25.7,2.4),(25.7,18),(25.8,-4.8),(25.8,-9),(25.8,16.1),(25.8,0),(25.9,11.3),(25.9,-9.9),(25.9,12.2),(26,0.6),(26,-8.4),(26,-2.4),(26.1,7.5),(26.1,15.5),(26.1,-11),(26.1,-6),(26.2,4.2),(26.2,8.4),(26.3,-2.4),(26.3,4.8),(26.3,-9),(26.3,9.6),(26.4,16.4),(26.4,-6.6),(26.4,12.5),(26.4,-15.5),(26.5,-2.4),(26.5,-7.5),(26.5,1.8),(26.6,-16.4),(26.6,6),(26.6,-11.6),(26.6,3),(26.7,16.4),(26.7,-13.1),(26.7,10.4),(26.8,21.5),(26.8,-4.2),(26.8,7.5),(26.8,2.4),(26.9,-1.8),(26.9,-14.3),(27,-7.2),(27,15.8),(27,0),(27.1,4.2),(27.1,-3.6),(27.1,-10.1),(27.1,9.6),(27.2,0.9),(27.2,17.3),(27.2,-12.5),(27.2,6),(27.3,14.6),(27.3,-4.2),(27.3,17.3),(27.3,4.8),(27.4,10.7),(27.4,-8.4),(27.4,-3),(27.5,15.5),(27.5,-13.1),(27.5,3.6),(27.5,-18.8),(27.6,12.8),(27.6,-9.3),(27.6,-1.2),(27.6,15.8),(27.7,9),(27.7,-6),(27.7,7.2),(27.7,0),(27.8,10.7),(27.8,-6.9),(27.8,1.2),(27.8,-8.4),(27.9,4.8),(27.9,-15.2),(27.9,5.4),(28.1,3.9),(28.1,-6.6),(28.1,-0.3),(28.2,12.2),(28.2,-10.7),(28.2,-13.1),(28.2,3.6),(28.3,-1.8),(28.3,-16.1),(28.4,-15.5),(28.5,13.4),(28.5,-6.3),(28.5,-8.4),(28.6,1.8),(28.6,18.5),(28.6,11),(28.7,-4.2),(28.7,-1.8),(28.7,16.4),(28.8,-6.3),(28.8,13.7),(28.8,9.6),(28.9,4.8),(28.9,-9.3),(28.9,-18.5),(29,9),(29,-12.5),(29,12.2),(29,0),(29.1,-4.2),(29.1,17),(29.2,13.4),(29.2,-3.9),(29.4,10.7),(29.5,-7.8),(29.5,-10.1),(29.5,-1.2),(29.6,20.9),(29.6,5.4),(29.6,-4.2),(29.8,2.4),(29.8,15.5),(30,7.2),(30.1,-4.2),(30.1,-5.7),(30.2,-11.6),(30.2,-2.4),(30.2,-3.3),(30.7,-12.5),(30.8,13.3),(31,12.5),(31.1,-10.4),(31.4,3.1),(31.5,-2.4),(31.5,-4.2),(31.6,-17)]

l2icl = [(20.4,16.2),(20.4,-1.6),(20.5,-2.2),(21.1,9),(21.1,-3.9),(21.1,-5.3),(21.2,-7.5),(21.2,2.1),(21.2,15.4),(21.3,16.3),(21.3,-1.6),(21.4,3),(21.6,-2.7),(22.2,-3.1),(22.2,9),(22.2,-5.6),(22.3,-6.5),(22.4,26),(22.4,-8.7),(22.5,-4.5),(22.5,17.3),(22.6,-7.9),(22.8,-0.5),(22.8,-3),(22.8,-5.3),(22.8,-1.3),(22.9,9.5),(22.9,-2.2),(23,3.8),(23.1,5.8),(23.1,-5.3),(23.1,9.9),(23.1,-1.3),(23.2,-4.5),(23.2,-2.2),(23.3,15.8),(23.4,-4.7),(23.4,-9),(23.5,8.5),(23.5,-1.6),(23.6,-3.6),(23.6,-8.7),(23.7,-6.5),(23.7,6.8),(23.7,-1.9),(23.8,0.4),(23.8,-7.9),(23.8,-4.2),(23.9,6.7),(23.9,2.1),(23.9,-9.6),(24,-3),(24,4.7),(24,-5.9),(24.1,19.9),(24.1,2.1),(24.1,-6.5),(24.1,-1.9),(24.2,6.8),(24.2,-8.2),(24.2,-4.2),(24.3,13),(24.3,0.7),(24.3,-14.7),(24.4,15.5),(24.4,-1.9),(24.4,-10.5),(24.4,9),(24.5,-5.3),(24.5,2.7),(24.5,-3),(24.5,-8.2),(24.6,-13.6),(24.6,13.8),(24.6,-0.7),(24.6,9.5),(24.7,-7),(24.7,6.4),(24.7,-3.6),(24.8,-13.3),(24.8,14.7),(24.8,2.1),(24.8,-5.3),(24.9,-7.6),(24.9,14.4),(24.9,10.7),(25,-1.9),(25,1.8),(25,-4.2),(25.1,-15.3),(25.1,8.7),(25.1,-6.5),(25.1,-9),(25.2,3.8),(25.2,-2.5),(25.2,8.4),(25.2,-11),(25.3,13),(25.3,-0.2),(25.3,-5.3),(25.4,9.8),(25.4,3.3),(25.4,-11.9),(25.4,-3),(25.5,0.4),(25.5,-7),(25.5,18.1),(25.5,13),(25.6,3.8),(25.6,-4.2),(25.6,6.4),(25.6,-8.7),(25.7,1.5),(25.7,-11.3),(25.7,15.8),(25.7,-2.2),(25.8,11.3),(25.8,-6.2),(25.8,3.8),(25.9,-7.6),(25.9,10.7),(25.9,-1.3),(26,18),(26,16.4),(26,5),(26,-3),(26.1,11.3),(26.1,-7.6),(26.1,15),(26.1,-13.9),(26.2,-9.6),(26.2,-1.3),(26.2,1.5),(26.3,9),(26.3,-0.7),(26.3,19.9),(26.4,-9.9),(26.4,5),(26.4,-4.2),(26.4,-11),(26.5,23.4),(26.5,0.4),(26.5,-8.2),(26.5,-15.9),(26.6,6.1),(26.6,-1.9),(26.6,-10.5),(26.6,-4.5),(26.7,9),(26.7,-14.5),(26.8,1.5),(26.8,7.3),(26.8,-1.9),(26.9,10.7),(26.9,16.1),(26.9,4.4),(27,7.8),(27,-3),(27.1,-12.2),(27.1,10.1),(27.1,2.4),(27.2,-1.9),(27.2,-8.5),(27.2,17),(27.3,-3.6),(27.3,-15.9),(27.3,-7.9),(27.3,10.1),(27.4,22.4),(27.4,1.3),(27.4,3.5),(27.4,-13.6),(27.5,13.8),(27.5,4.1),(27.5,-14.5),(27.6,-5.9),(27.6,17.8),(27.6,6.4),(27.7,0.4),(27.7,14.1),(27.7,7.8),(27.7,9.5),(27.8,-3),(27.8,-1.3),(27.8,-5.6),(27.9,14.7),(27.9,-12.2),(27.9,11.8),(28,-1.9),(28,15.5),(28,-11),(28.1,12.1),(28.1,-3.6),(28.1,-0.7),(28.2,17.1),(28.2,-13.3),(28.3,-16.5),(28.3,-4.2),(28.4,-13.3),(28.4,5),(28.4,11.3),(28.5,-5.3),(28.5,-1.9),(28.5,9.3),(28.5,-11.6),(28.6,7.3),(28.6,11.8),(28.6,-5.9),(28.6,0.7),(28.7,-14.7),(28.7,3.5),(28.7,14.1),(28.8,-8.7),(28.8,-6.2),(28.8,-15.6),(28.8,8.1),(29.1,-5.8),(29.2,5),(29.3,17.7),(29.3,1.8),(29.3,-7),(29.5,-6.7),(29.6,-3),(29.6,7.3),(29.6,21.8),(29.8,-4.5),(29.9,12.4),(29.9,-8.5),(29.9,0.7),(30,-1.2),(30,12.7),(30,-13.6),(30,-4.5),(30.1,-13.3),(30.2,-13.3),(30.5,11.3),(30.5,4.1),(30.9,1.8),(31.1,-9.6),(31.2,3.5),(31.4,-13.6),(31.4,4.1),(31.5,12.7),(31.7,-4.9),(31.9,-0.6)]

# panel settings: name, data, x limits, x ticks, y limits, y ticks, qq y limits, qq y ticks
panels = [
    ('RHL', rhl, (151.3, 207.4), [160, 170, 180, 190, 200], (-18, 24.1), [-10, 0, 10, 20], (-25.3, 25.2), [-20, -10, 0, 10, 20]),
    ('LHL', lhl, (147.5, 207.7), [150, 160, 170, 180, 190, 200], (-18.2, 23.6), [-10, 0, 10, 20], (-24.6, 24.3), [-20, -10, 0, 10, 20]),
    ('RHB', rhb, (63.9, 95.8), [65, 70, 75, 80, 85, 90, 95], (-19.9, 25.7), [-10, 0, 10, 20], (-23, 25.6), [-20, -10, 0, 10, 20]),
    ('LHB', lhb, (64.1, 95.3), [65, 70, 75, 80, 85, 90, 95], (-18, 21.2), [-10, 0, 10, 20], (-22.8, 21.2), [-20, -10, 0, 10, 20]),
    ('RHS', rhs, (116.1, 209), [120, 140, 160, 180, 200], (-19.7, 25.1), [-10, 0, 10, 20], (-28.2, 25.4), [-20, -10, 0, 10, 20]),
    ('LHS', lhs, (126.9, 203), [140, 160, 180, 200], (-19, 25.5), [-10, 0, 10, 20], (-27.7, 25.6), [-20, -10, 0, 10, 20]),
    ('RMFL', rmfl, (63.5, 90.7), [65, 70, 75, 80, 85, 90], (-22, 24.3), [-20, -10, 0, 10, 20], (-27, 25.2), [-20, -10, 0, 10, 20]),
    ('LMFL', lmfl, (62.2, 90.8), [65, 70, 75, 80, 85, 90], (-22.3, 25.6), [-20, -10, 0, 10, 20], (-27, 25.2), [-20, -10, 0, 10, 20]),
    ('R2ICL', r2icl, (19.65, 32.3), [20, 22, 24, 26, 28, 30, 32], (-22.1, 26.3), [-20, -10, 0, 10, 20], (-32.9, 32.1), [-30, -20, -10, 0, 10, 20, 30]),
    ('L2ICL', l2icl, (19.65, 32.3), [20, 22, 24, 26, 28, 30, 32], (-18.6, 27.7), [-10, 0, 10, 20], (-30.6, 27.8), [-20, -10, 0, 10, 20]),
]

BLUE = '#4676c6'
RED = '#d9474f'

W, H = 1937, 2480
fig = plt.figure(figsize=(W / 100, H / 100), dpi=100)
col_left = [38, 534, 1032, 1530]
row_top = [63, 588, 1110, 1633, 2155]
aw, ah = 397, 270


def make_ax(left, top):
    return fig.add_axes([left / W, 1 - (top + ah) / H, aw / W, ah / H])


def style(ax, title, xlabel):
    for s in ['top', 'right']:
        ax.spines[s].set_visible(False)
    for s in ['left', 'bottom']:
        ax.spines[s].set_linewidth(1.0)
        ax.spines[s].set_color('#222222')
    ax.tick_params(labelsize=12, length=3, width=0.9, direction='out', pad=1.5, colors='#222222')
    ax.annotate(title, xy=(0.5, 1), xycoords='axes fraction', xytext=(-8, 32),
                textcoords='offset points', ha='center', va='center',
                fontsize=13, fontweight='bold')
    ax.annotate('Residuals', xy=(0, 1), xycoords='axes fraction', xytext=(-23, 11),
                textcoords='offset points', ha='left', va='center', fontsize=12.5)
    ax.set_xlabel(xlabel, fontsize=12.5, labelpad=3)


nd = NormalDist()
for i, (name, data, xlim, xticks, ylim, yticks, qylim, qyticks) in enumerate(panels):
    row, side = i // 2, i % 2
    x = np.array([p[0] for p in data])
    res = np.array([p[1] for p in data])

    # residuals vs predictor
    ax = make_ax(col_left[2 * side], row_top[row])
    ax.scatter(x, res, s=62, color=BLUE, edgecolors='none', zorder=2)
    ax.axhline(0, color=RED, lw=1.1, zorder=3)
    ax.set_xlim(*xlim)
    ax.set_ylim(*ylim)
    ax.set_xticks(xticks)
    ax.set_yticks(yticks)
    style(ax, 'Residuals vs. ' + name, name)

    # normal quantile plot of the same residuals
    qa = make_ax(col_left[2 * side + 1], row_top[row])
    srt = np.sort(res)
    n = len(srt)
    q = np.array([nd.inv_cdf(k / (n + 1)) for k in range(1, n + 1)])
    mu, sd = srt.mean(), srt.std(ddof=1)
    qa.scatter(q, srt, s=62, color=BLUE, edgecolors='none', zorder=2)
    qa.plot([-3, 3], [mu - 3 * sd, mu + 3 * sd], color=RED, lw=1.1, zorder=3)
    qa.set_xlim(-3.2, 3.04)
    qa.set_ylim(*qylim)
    qa.set_xticks([-3, -2, -1, 0, 1, 2, 3])
    qa.set_yticks(qyticks)
    style(qa, 'QQ Plot of Residuals', 'Normal Quantile')

fig.savefig('out.png', dpi=100)
